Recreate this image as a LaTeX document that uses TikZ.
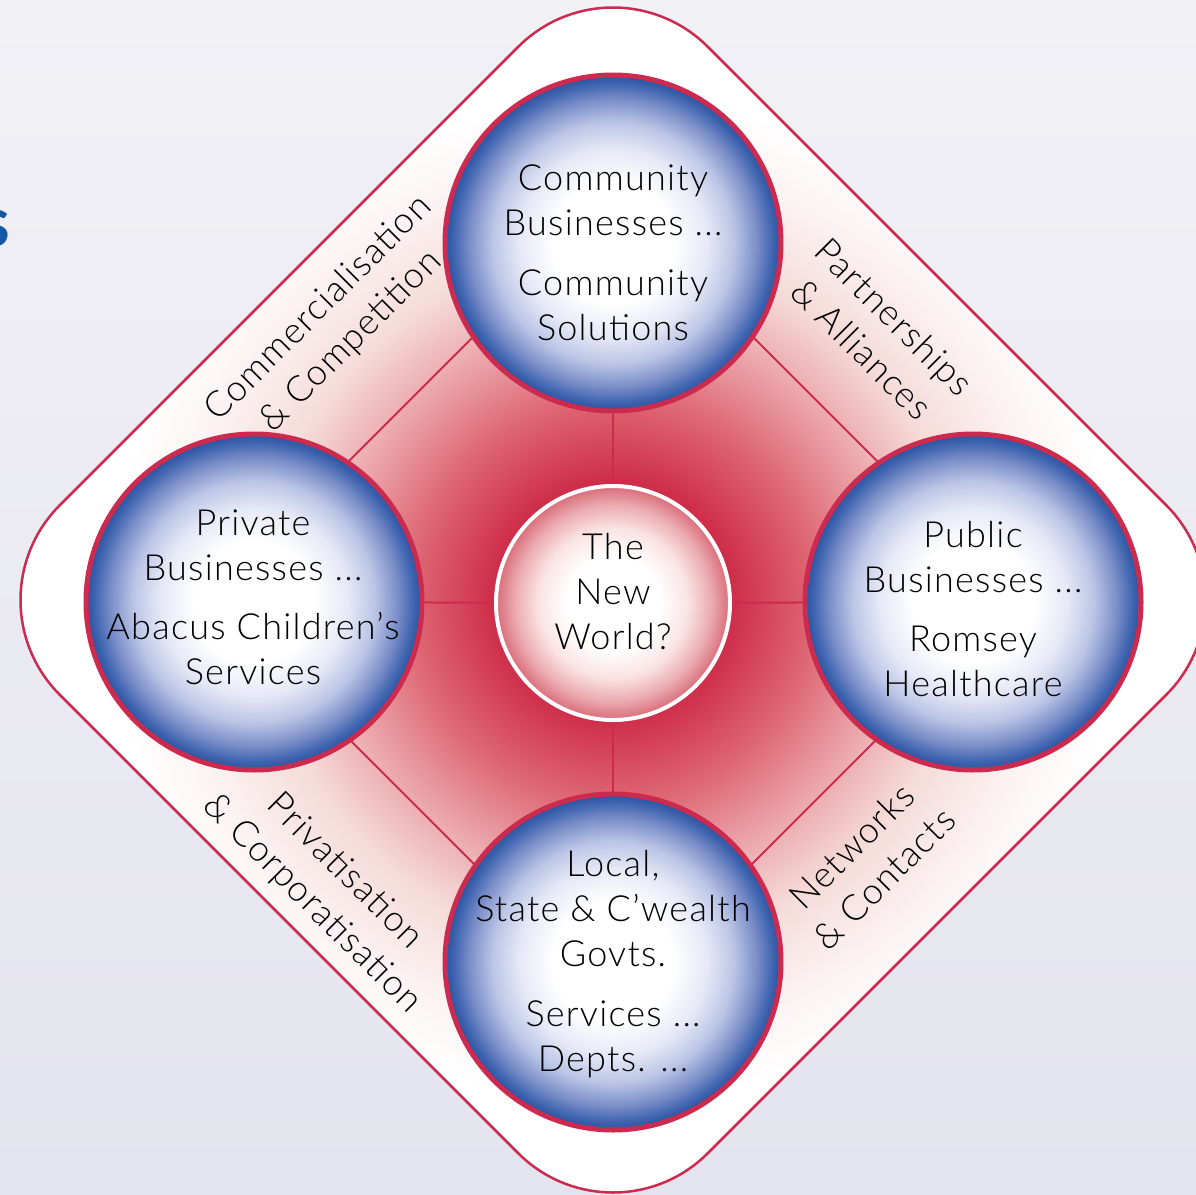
\documentclass[tikz,border=0pt]{standalone}
\usepackage{fontspec}
\setmainfont{Lato}[UprightFont={* Light}, BoldFont={* Bold}, LetterSpace=3.5]
\definecolor{crim}{RGB}{204,42,78}
\definecolor{sblue}{RGB}{22,88,168}
\definecolor{bgtop}{RGB}{242,241,246}
\definecolor{bgbot}{RGB}{228,228,238}
\pgfdeclareradialshading{bluesphere}{\pgfpoint{0bp}{0bp}}{%
  rgb(0bp)=(1,1,1); rgb(9bp)=(1,1,1); rgb(14bp)=(0.90,0.91,0.965);
  rgb(18bp)=(0.73,0.77,0.90); rgb(21.5bp)=(0.47,0.55,0.78);
  rgb(23.5bp)=(0.27,0.41,0.70); rgb(25bp)=(0.15,0.32,0.63); rgb(50bp)=(0.15,0.32,0.63)}
\pgfdeclareradialshading{pinksphere}{\pgfpoint{0bp}{0bp}}{%
  rgb(0bp)=(1,1,1); rgb(10bp)=(1,1,1); rgb(16bp)=(0.98,0.89,0.89);
  rgb(21bp)=(0.92,0.67,0.69); rgb(25bp)=(0.85,0.42,0.47); rgb(50bp)=(0.85,0.42,0.47)}
\pgfdeclareradialshading{redglow}{\pgfpoint{0bp}{0bp}}{%
  rgb(0bp)=(0.78,0.10,0.22); rgb(5bp)=(0.81,0.18,0.29); rgb(8.3bp)=(0.87,0.40,0.45);
  rgb(12bp)=(0.93,0.69,0.70); rgb(14.5bp)=(0.96,0.86,0.85); rgb(18bp)=(0.985,0.95,0.95);
  rgb(21bp)=(1,1,1); rgb(50bp)=(1,1,1)}
\pgfdeclarelayer{back}
\pgfdeclarelayer{mid}
\pgfsetlayers{back,mid,main}
\begin{document}
\begin{tikzpicture}[x=0.5pt,y=-0.5pt,
  sphere/.style={circle, draw=crim, line width=2.5pt, shade, shading=bluesphere, minimum size=168pt, inner sep=0pt},
  hub/.style={circle, draw=white, line width=2pt, shade, shading=pinksphere, minimum size=117pt, inner sep=0pt},
  txt/.style={align=center, font=\fontsize{18}{22.5}\selectfont, text=black, inner sep=0pt},
  side/.style={align=center, font=\fontsize{18}{23}\selectfont, text=black, inner sep=0pt},
  link/.style={draw=crim, line width=1pt},
  outline/.style={draw=crim, line width=1.25pt, rounded corners=67pt}]
\useasboundingbox (0,0) rectangle (1196,1195);
\clip (0,0) rectangle (1196,1195);
% outer diamond corners
\coordinate (DM) at (937,276);
\coordinate (DT) at (613,-48);
\coordinate (DR) at (1261,600);
\coordinate (DB) at (613,1248);
\coordinate (DL) at (-35,600);
% inner diamond corners
\coordinate (IT) at (613,197);
\coordinate (IR) at (1016,600);
\coordinate (IB) at (613,1003);
\coordinate (IL) at (210,600);
\begin{pgfonlayer}{back}
  \begin{scope}
    \clip (0,0) rectangle (1196,1195);
    \shade[top color=bgtop, bottom color=bgbot] (0,0) rectangle (1196,1195);
    \begin{scope}
      \clip[rounded corners=67pt] (DM) -- (DR) -- (DB) -- (DL) -- (DT) -- cycle;
      \fill[white] (0,0) rectangle (1196,1195);
      \shade[shading=redglow] (613,600) circle [radius=600];
    \end{scope}
    \draw[outline] (DM) -- (DR) -- (DB) -- (DL) -- (DT) -- cycle;
  \end{scope}
\end{pgfonlayer}
% circles
\node[sphere] (top) at (613,243) {};
\node[sphere] (left) at (254,602) {};
\node[sphere] (right) at (973,602) {};
\node[sphere] (bottom) at (613,962) {};
\node[hub] (hub) at (613,603) {};
\begin{pgfonlayer}{mid}
  \draw[link] (IT) -- (IR) -- (IB) -- (IL) -- cycle;
  \draw[link] (hub) -- (top);
  \draw[link] (hub) -- (bottom);
  \draw[link] (hub) -- (left);
  \draw[link] (hub) -- (right);
\end{pgfonlayer}
% texts
\node[txt] (toptext) at (613,253) {Community\\Businesses ...\\[7.5pt]Community\\Solutions};
\node[txt] (lefttext) at (253,597) {Private\\Businesses ...\\[7pt]Abacus Children’s\\Services};
\node[txt] (righttext) at (973,609) {Public\\Businesses ...\\[7pt]Romsey\\Healthcare};
\node[txt] (bottomtext) at (613,964) {Local,\\State \& C’wealth\\Govts.\\[7.5pt]Services ...\\Depts. ...};
\node[txt] (hubtext) at (613,592) {The\\New\\World?};
% side labels
\node[side, rotate=45] (lab1) at (335,325) {Commercialisation\\\& Competition};
\node[side, rotate=-45] (lab2) at (878,333) {Partnerships\\\& Alliances};
\node[side, rotate=-45] (lab3) at (328,888) {Privatisation\\\& Corporatisation};
\node[side, rotate=45] (lab4) at (868,862) {Networks\\\& Contacts};
% cropped heading fragment
\node[anchor=base east, text=sblue, font=\fontsize{35}{40}\selectfont\bfseries, inner sep=0pt] (sfrag) at (11,246) {s};
\end{tikzpicture}
\end{document}
